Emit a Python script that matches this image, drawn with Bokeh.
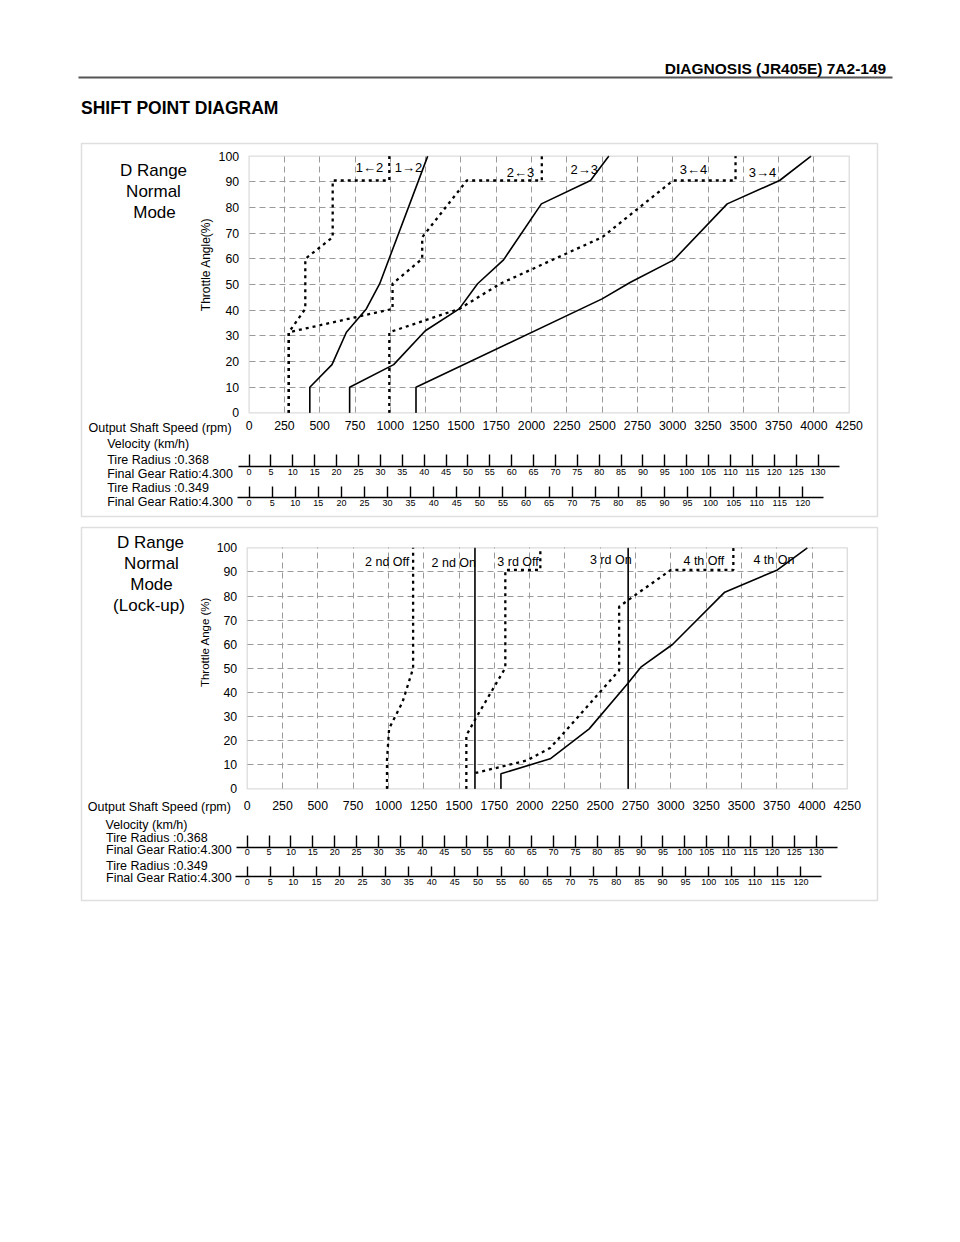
import math
from bokeh.plotting import figure
from bokeh.models import Range1d, LinearAxis, FixedTicker, Grid, BoxAnnotation, Label
from bokeh.layouts import column
from bokeh.embed import file_html
from bokeh.resources import INLINE

# ------------------------------------------------------------------ data
RPM_TICKS = [0, 250, 500, 750, 1000, 1250, 1500, 1750, 2000, 2250, 2500,
             2750, 3000, 3250, 3500, 3750, 4000, 4250]
THROTTLE_TICKS = [0, 10, 20, 30, 40, 50, 60, 70, 80, 90, 100]
KMH_TICKS_R368 = [0, 5, 10, 15, 20, 25, 30, 35, 40, 45, 50, 55, 60, 65, 70,
                  75, 80, 85, 90, 95, 100, 105, 110, 115, 120, 125, 130]
KMH_TICKS_R349 = [0, 5, 10, 15, 20, 25, 30, 35, 40, 45, 50, 55, 60, 65, 70,
                  75, 80, 85, 90, 95, 100, 105, 110, 115, 120]
TIRE_RADII = [0.368, 0.349]
FINAL_GEAR_RATIO = 4.300

# D range normal mode: shift lines (rpm, throttle %)
UP12_RPM = [430, 430, 587, 689, 830, 925, 1265]
UP12_THR = [0, 10, 18.8, 31.4, 40.5, 50.3, 100]
DN12_RPM = [281, 281, 398, 398, 592, 592, 993, 993]
DN12_THR = [0, 31.4, 40.5, 60, 68.4, 90.5, 90.5, 100]
UP23_RPM = [712, 712, 1024, 1248, 1488, 1618, 1802, 2070, 2418, 2548]
UP23_THR = [0, 10, 18.8, 32, 40.5, 50.3, 59.6, 81.4, 90.5, 100]
DN23_RPM = [281, 281, 1016, 1016, 1226, 1226, 1542, 2073, 2073]
DN23_THR = [0, 31.4, 40.5, 50.3, 60, 68.4, 90.5, 90.5, 100]
UP34_RPM = [1182, 1182, 2500, 2701, 3008, 3386, 3757, 3980]
UP34_THR = [0, 10, 44.4, 50.9, 59.6, 81.4, 90.5, 100]
DN34_RPM = [993, 993, 1488, 1778, 2500, 3003, 3445, 3445]
DN34_THR = [0, 31.4, 40.5, 50.3, 68.4, 90.5, 90.5, 100]

# D range normal mode (lock-up)
LU2_OFF_RPM = [990, 990, 1005, 1100, 1175, 1175]
LU2_OFF_THR = [0, 12, 25, 36, 50, 100]
LU2_ON_RPM = [1613, 1613]
LU2_ON_THR = [0, 100]
LU3_OFF_RPM = [1552, 1552, 1616, 1828, 1828, 2076, 2076]
LU3_OFF_THR = [0, 22.2, 29, 50.2, 90.8, 90.8, 100]
LU3_ON_RPM = [2698, 2698]
LU3_ON_THR = [0, 100]
LU4_OFF_RPM = [1616, 1981, 2146, 2300, 2634, 2634, 2693, 3000, 3443, 3443]
LU4_OFF_THR = [6.6, 11.8, 17, 27, 49.1, 75.6, 78.1, 90.8, 90.8, 100]
LU4_ON_RPM = [1797, 1797, 2146, 2422, 2698, 2788, 3012, 3382, 3755, 3967]
LU4_ON_THR = [0, 6.3, 12.5, 24.9, 43.9, 50.5, 59.9, 81.6, 90.8, 100]

TOP_LABELS = ["1\u21902", "1\u21922", "2\u21903", "2\u21923", "3\u21904", "3\u21924"]
BOT_LABELS = ["2 nd Off", "2 nd On", "3 rd Off", "3 rd On", "4 th Off", "4 th On"]

# ------------------------------------------------------------------ styles
FONT = "Liberation Sans"
PX_PER_RPM = 35.3 / 250.0
W = 947                      # canvas / frame width (page px)
BOX_L, BOX_R = 81, 877       # panel box
SIDE = "12.5px"


def kmh_per_rpm(radius):
    return 2 * math.pi * radius * 60.0 / 1000.0 / FINAL_GEAR_RATIO


def txt(p, x, y, s, size="12px", align="left", bold=False, angle=0.0, data=False):
    kw = {} if data else dict(x_range_name="px", y_range_name="py")
    p.add_layout(Label(x=x, y=y, text=s, text_font=FONT, text_font_size=size,
                       text_align=align, text_baseline="middle", angle=angle,
                       text_color="black",
                       text_font_style="bold" if bold else "normal", **kw))


def base_fig(y_top, y_bot, xr, yr):
    p = figure(frame_width=W, frame_height=y_bot - y_top, x_range=xr, y_range=yr,
               min_border=0, min_border_left=0, min_border_right=0,
               min_border_top=0, min_border_bottom=0,
               x_axis_type=None, y_axis_type=None,
               output_backend="svg", toolbar_location=None)
    p.outline_line_color = None
    p.background_fill_color = "white"
    p.border_fill_color = "white"
    p.extra_x_ranges = {"px": Range1d(0, W)}
    p.extra_y_ranges = {"py": Range1d(y_bot, y_top)}
    return p


def build_panel(fig_top, fig_bot, box_top, box_bot, x0, y100, y0, spec):
    ky = (y0 - y100) / 100.0
    xr = Range1d((0 - x0) / PX_PER_RPM, (W - x0) / PX_PER_RPM)
    yr = Range1d((y0 - fig_bot) / ky, (y0 - fig_top) / ky)
    p = base_fig(fig_top, fig_bot, xr, yr)
    f0, f1 = kmh_per_rpm(TIRE_RADII[0]), kmh_per_rpm(TIRE_RADII[1])
    p.extra_x_ranges["v0"] = Range1d(xr.start * f0, xr.end * f0)
    p.extra_x_ranges["v1"] = Range1d(xr.start * f1, xr.end * f1)

    # panel box
    p.add_layout(BoxAnnotation(left=BOX_L, right=BOX_R, top=box_top, bottom=box_bot,
                               x_range_name="px", y_range_name="py",
                               fill_color=None, fill_alpha=0,
                               line_color="#949494", line_width=1.5))
    # grid
    p.add_layout(Grid(dimension=0, ticker=FixedTicker(ticks=RPM_TICKS[1:-1]),
                      cross_bounds=(THROTTLE_TICKS[0], THROTTLE_TICKS[-1]),
                      grid_line_color="#9a9a9a", grid_line_dash="6 4", grid_line_width=1), "center")
    p.add_layout(Grid(dimension=1, ticker=FixedTicker(ticks=THROTTLE_TICKS[1:-1]),
                      cross_bounds=(RPM_TICKS[0], RPM_TICKS[-1]),
                      grid_line_color="#9a9a9a", grid_line_dash="6 4", grid_line_width=1), "center")
    p.add_layout(BoxAnnotation(left=RPM_TICKS[0], right=RPM_TICKS[-1],
                               bottom=THROTTLE_TICKS[0], top=THROTTLE_TICKS[-1],
                               fill_color=None, fill_alpha=0,
                               line_color="#8a8a8a", line_width=1.3))

    # axes
    ax_rpm = LinearAxis(ticker=FixedTicker(ticks=RPM_TICKS), fixed_location=0,
                        axis_line_color=None, major_tick_in=0, major_tick_out=0,
                        major_label_standoff=spec["rpm_standoff"],
                        major_label_text_font=FONT, major_label_text_font_size="12.3px",
                        major_label_text_color="black")
    p.add_layout(ax_rpm, "below")
    ax_thr = LinearAxis(ticker=FixedTicker(ticks=THROTTLE_TICKS), fixed_location=0,
                        axis_line_color=None, major_tick_in=0, major_tick_out=0,
                        major_label_standoff=10,
                        major_label_text_font=FONT, major_label_text_font_size="12.3px",
                        major_label_text_color="black")
    p.add_layout(ax_thr, "left")
    for rng, ticks, base, tick_len, bnd in (("v0", KMH_TICKS_R368, spec["v0_base"], spec["v0_tick"], 4.8),
                                             ("v1", KMH_TICKS_R349, spec["v1_base"], spec["v1_tick"], 4.4)):
        ax = LinearAxis(x_range_name=rng, y_range_name="py", fixed_location=base,
                        ticker=FixedTicker(ticks=ticks), bounds=(-2.5, ticks[-1] + bnd),
                        axis_line_color="black", axis_line_width=1.4,
                        major_tick_in=tick_len, major_tick_out=0,
                        major_tick_line_color="black", major_tick_line_width=1.4,
                        major_label_standoff=2,
                        major_label_text_font=FONT, major_label_text_font_size="9px",
                        major_label_text_color="black")
        p.add_layout(ax, "below")
    return p


def solid(p, xs, ys):
    p.line(xs, ys, line_color="black", line_width=1.6)


def dotted(p, xs, ys):
    p.line(xs, ys, line_color="black", line_width=2.3, line_dash="3 4")


# ------------------------------------------------------------------ header
hdr = base_fig(0, 141, Range1d(0, W), Range1d(141, 0))
hdr.add_layout(BoxAnnotation(left=78, right=892, top=76, bottom=78, fill_color="#555555",
                             x_range_name="px", y_range_name="py",
                             fill_alpha=1, line_color=None))
txt(hdr, 890, 68, "DIAGNOSIS (JR405E)  7A2-149", size="15.5px", align="right", bold=True)
txt(hdr, 80.5, 107, "SHIFT POINT DIAGRAM", size="17.5px", bold=True)

# ------------------------------------------------------------------ top panel
top = build_panel(141, 522, 143, 516, 248.6, 155.6, 412.4,
                  dict(rpm_standoff=8, v0_base=466, v0_tick=12, v1_base=497.3, v1_tick=11))
dotted(top, DN12_RPM, DN12_THR)
dotted(top, DN23_RPM, DN23_THR)
dotted(top, DN34_RPM, DN34_THR)
solid(top, UP12_RPM, UP12_THR)
solid(top, UP23_RPM, UP23_THR)
solid(top, UP34_RPM, UP34_THR)
for s, x, y in zip(TOP_LABELS, [853, 1129, 1922, 2373, 3147, 3636],
                   [95.6, 95.6, 93.7, 94.7, 94.8, 93.7]):
    txt(top, x, y, s, size="13px", align="center", data=True)
txt(top, 153, 169.5, "D Range", size="17px", align="center")
txt(top, 153, 190.5, "Normal", size="17px", align="center")
txt(top, 154, 211.5, "Mode", size="17px", align="center")
txt(top, 205, 264, "Throttle Angle(%)", size="12px", align="center", angle=math.pi / 2)
txt(top, 88, 427.3, "Output Shaft  Speed (rpm)", size=SIDE)
txt(top, 106.7, 443.3, "Velocity (km/h)", size=SIDE)
txt(top, 106.7, 459.5, "Tire Radius :0.368", size=SIDE)
txt(top, 106.7, 473.3, "Final Gear Ratio:4.300", size=SIDE)
txt(top, 106.7, 487, "Tire Radius :0.349", size=SIDE)
txt(top, 106.7, 501.7, "Final Gear Ratio:4.300", size=SIDE)

# ------------------------------------------------------------------ bottom panel
bot = build_panel(522, 904, 527, 900, 246.7, 547.3, 788.4,
                  dict(rpm_standoff=12, v0_base=846.7, v0_tick=12, v1_base=876, v1_tick=10))
dotted(bot, LU2_OFF_RPM, LU2_OFF_THR)
dotted(bot, LU3_OFF_RPM, LU3_OFF_THR)
dotted(bot, LU4_OFF_RPM, LU4_OFF_THR)
solid(bot, LU2_ON_RPM, LU2_ON_THR)
solid(bot, LU3_ON_RPM, LU3_ON_THR)
solid(bot, LU4_ON_RPM, LU4_ON_THR)
for s, x, y in zip(BOT_LABELS, [991, 1463, 1918, 2575, 3234, 3730],
                   [94.0, 93.6, 94.0, 95.0, 94.7, 95.0]):
    txt(bot, x, y, s, size="12.5px", align="center", data=True)
txt(bot, 150, 541.7, "D Range", size="17px", align="center")
txt(bot, 151, 562.7, "Normal", size="17px", align="center")
txt(bot, 151, 584.3, "Mode", size="17px", align="center")
txt(bot, 148.5, 605, "(Lock-up)", size="17px", align="center")
txt(bot, 204, 641.5, "Throttle Ange (%)", size="11.5px", align="center", angle=math.pi / 2)
txt(bot, 87.3, 806.7, "Output Shaft  Speed (rpm)", size=SIDE)
txt(bot, 105, 824.3, "Velocity (km/h)", size=SIDE)
txt(bot, 105.5, 837.7, "Tire Radius :0.368", size=SIDE)
txt(bot, 105.5, 849.3, "Final Gear Ratio:4.300", size=SIDE)
txt(bot, 105.5, 865, "Tire Radius :0.349", size=SIDE)
txt(bot, 105.5, 877, "Final Gear Ratio:4.300", size=SIDE)

layout = column(hdr, top, bot)
open("out.html", "w").write(file_html(layout, INLINE))
